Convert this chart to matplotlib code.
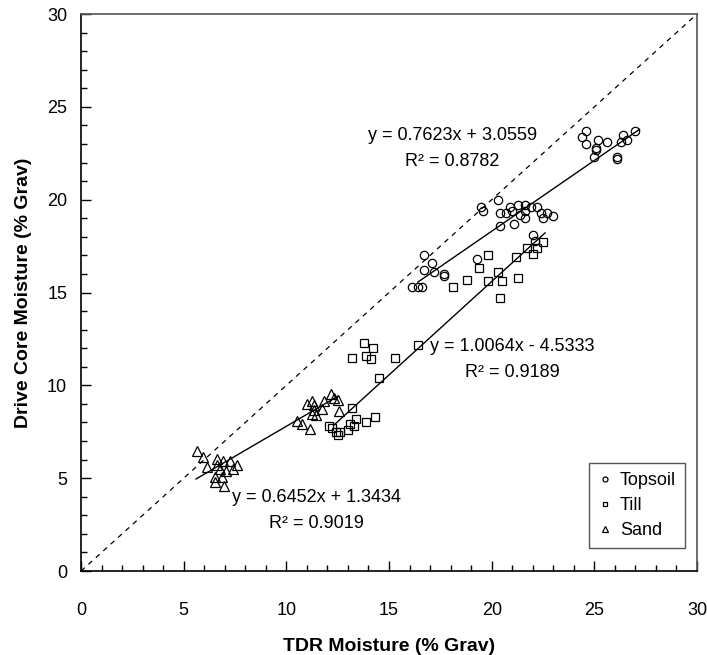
import numpy as np
import matplotlib
matplotlib.use('Agg')
import matplotlib.pyplot as plt
from matplotlib.ticker import MultipleLocator

plt.rcParams['font.family'] = ['Liberation Sans', 'DejaVu Sans']

# data (TDR %, drive core %)
topsoil_x = [24.6, 24.4, 24.6, 25.2, 25.1, 25.1, 25.6, 25.0, 26.1, 26.1, 26.4, 26.3, 26.6, 27.0,
             20.3, 19.5, 19.6, 20.4, 20.7, 20.9, 21.0, 21.3, 21.6, 21.6, 21.4, 21.9, 22.2, 22.4,
             22.7, 23.0, 22.5, 21.6, 21.1, 20.4, 22.0, 22.1,
             16.7, 17.1, 16.7, 17.2, 17.7, 17.7, 19.3, 16.1, 16.4, 16.6]
topsoil_y = [23.7, 23.4, 23.0, 23.2, 22.8, 22.7, 23.1, 22.3, 22.3, 22.2, 23.5, 23.1, 23.2, 23.7,
             20.0, 19.6, 19.4, 19.3, 19.3, 19.6, 19.4, 19.7, 19.7, 19.4, 19.2, 19.6, 19.6, 19.3,
             19.3, 19.1, 19.0, 19.0, 18.7, 18.6, 18.1, 17.8,
             17.0, 16.6, 16.2, 16.1, 16.0, 15.9, 16.8, 15.3, 15.3, 15.3]

till_x = [18.1, 18.8, 19.4, 19.8, 19.8, 20.3, 20.5, 20.4, 21.3, 21.2, 21.7, 22.0, 22.2, 22.5,
          13.8, 14.2, 13.2, 13.9, 14.1, 15.3, 16.4, 14.5,
          13.2, 12.1, 12.2, 12.4, 12.6, 13.0, 13.3, 13.4, 13.9, 14.3, 12.5, 13.1]
till_y = [15.3, 15.7, 16.3, 17.0, 15.6, 16.1, 15.6, 14.7, 15.8, 16.9, 17.4, 17.1, 17.4, 17.7,
          12.3, 12.0, 11.5, 11.6, 11.4, 11.5, 12.2, 10.4,
          8.8, 7.8, 7.7, 7.5, 7.5, 7.6, 7.8, 8.2, 8.0, 8.3, 7.3, 7.9]

sand_x = [5.64, 5.94, 6.15, 6.6, 6.9, 6.62, 7.25, 7.58, 7.4, 7.08, 6.77, 6.54, 6.89, 6.54, 6.94,
          10.5, 10.78, 11.14, 11.0, 11.25, 11.37, 11.25, 11.43, 11.74, 11.82, 12.15, 12.32,
          12.5, 12.56, 11.33]
sand_y = [6.45, 6.12, 5.6, 6.05, 5.95, 5.7, 5.92, 5.7, 5.5, 5.38, 5.52, 5.06, 5.05, 4.8, 4.57,
          8.09, 7.92, 7.64, 8.99, 9.16, 8.92, 8.46, 8.41, 8.7, 9.15, 9.55, 9.3,
          9.2, 8.64, 8.66]

# fitted lines: slope, intercept, x range, r2
fits = {
    'Topsoil': (0.7623, 3.0559, 16.4, 27.2, 0.8782),
    'Till': (1.0064, -4.5333, 12.3, 22.6, 0.9189),
    'Sand': (0.6452, 1.3434, 5.6, 12.5, 0.9019),
}
label_pos = {'Topsoil': (18.1, 23.45, 22.05), 'Till': (21.0, 12.1, 10.68), 'Sand': (11.45, 3.94, 2.58)}

fig = plt.figure(figsize=(7.07, 6.55), dpi=100)
ax = fig.add_axes([0.1146, 0.1282, 0.8713, 0.8504])

ax.plot([0, 30], [0, 30], color='black', linestyle=(0, (4, 4)), linewidth=0.9)

mk = dict(linestyle='none', markerfacecolor='none', markeredgecolor='black', markeredgewidth=0.9)
ax.plot(topsoil_x, topsoil_y, marker='o', markersize=6, label='Topsoil', **mk)
ax.plot(till_x, till_y, marker='s', markersize=6, label='Till', **mk)
ax.plot(sand_x, sand_y, marker='^', markersize=7, label='Sand', **mk)

for name, (m, b, x0, x1, r2) in fits.items():
    xs = np.array([x0, x1])
    ax.plot(xs, m * xs + b, color='black', linewidth=1)
    cx, y1, y2 = label_pos[name]
    sign = '+' if b >= 0 else '-'
    ax.text(cx, y1, f'y = {m:.4f}x {sign} {abs(b):.4f}', ha='center', va='center', fontsize=13)
    ax.text(cx, y2, f'R² = {r2:.4f}', ha='center', va='center', fontsize=13)

ax.set_xlim(0, 30)
ax.set_ylim(0, 30)
ax.xaxis.set_major_locator(MultipleLocator(5))
ax.yaxis.set_major_locator(MultipleLocator(5))
ax.xaxis.set_minor_locator(MultipleLocator(1))
ax.yaxis.set_minor_locator(MultipleLocator(1))
ax.tick_params(which='both', direction='in', labelsize=13, width=1, color='black')
ax.tick_params(which='major', length=7)
ax.tick_params(which='minor', length=4)
ax.tick_params(axis='x', which='major', pad=22)
ax.tick_params(axis='y', which='major', pad=10)
for s in ax.spines.values():
    s.set_linewidth(1.2)
ax.spines['top'].set_color('#555555')
ax.spines['right'].set_color('#555555')

ax.set_xlabel('TDR Moisture (% Grav)', fontsize=14, fontweight='bold', labelpad=14)
ax.set_ylabel('Drive Core Moisture (% Grav)', fontsize=14, fontweight='bold', labelpad=11)

leg = ax.legend(loc='lower right', bbox_to_anchor=(0.969, 0.163), bbox_transform=fig.transFigure,
                borderaxespad=0, fontsize=13, markerscale=0.6, fancybox=False, framealpha=1,
                handlelength=0.8, handletextpad=0.4, labelspacing=0.45, borderpad=0.5)
leg.get_frame().set_edgecolor('#555555')
leg.get_frame().set_linewidth(1)

fig.savefig('out.png', dpi=100)
